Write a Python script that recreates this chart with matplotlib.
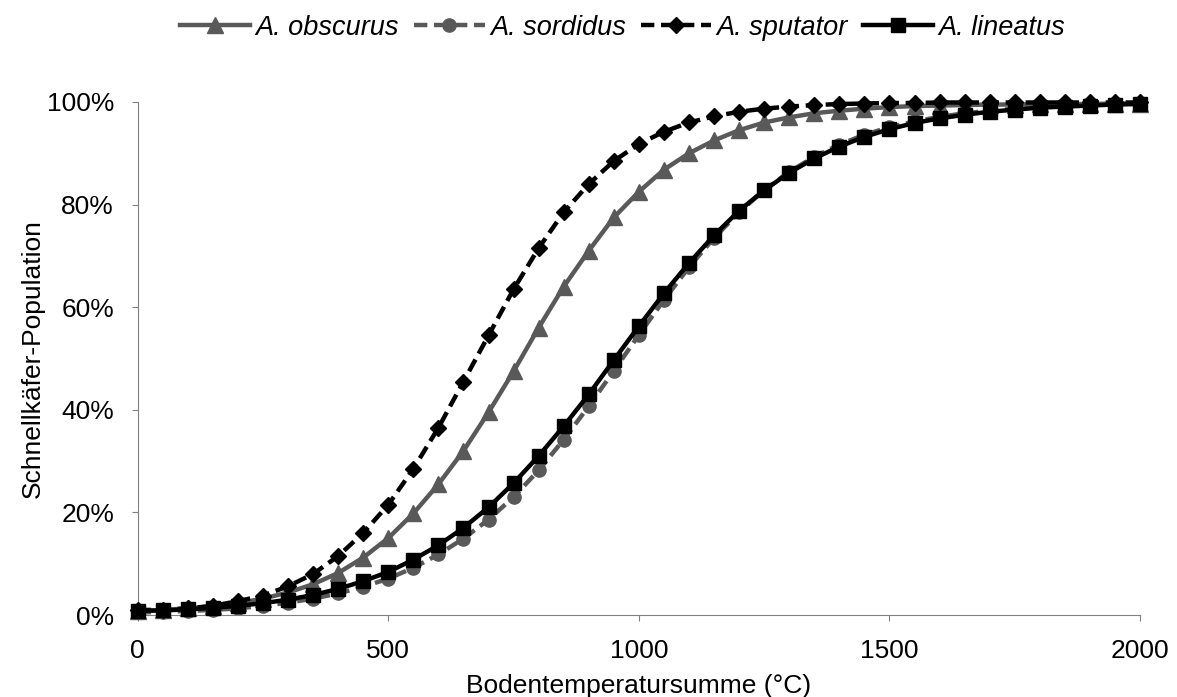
import numpy as np
import matplotlib.pyplot as plt
from matplotlib.ticker import PercentFormatter

plt.rcParams['font.family'] = ['Liberation Sans', 'DejaVu Sans']

x = list(range(0, 2001, 50))

obscurus = [0.8, 1.0, 1.3, 1.7, 2.3, 3.2, 4.4, 6.0, 8.2, 11.2, 15.0, 19.8, 25.5, 32.0,
            39.5, 47.5, 56.0, 64.0, 71.0, 77.5, 82.5, 86.8, 90.0, 92.5, 94.5, 96.0,
            97.0, 97.8, 98.3, 98.7, 99.0, 99.2, 99.3, 99.4, 99.5, 99.5, 99.6, 99.6,
            99.6, 99.7, 99.7]
sordidus = [0.5, 0.6, 0.8, 1.0, 1.3, 1.8, 2.4, 3.2, 4.2, 5.5, 7.1, 9.2, 11.8, 14.9,
            18.6, 23.0, 28.2, 34.2, 40.7, 47.6, 54.6, 61.4, 67.8, 73.5, 78.5, 82.8,
            86.4, 89.3, 91.7, 93.6, 95.1, 96.2, 97.1, 97.8, 98.3, 98.7, 99.0, 99.3,
            99.4, 99.6, 99.7]
sputator = [1.0, 1.0, 1.3, 1.8, 2.7, 3.8, 5.6, 8.0, 11.5, 16.0, 21.5, 28.5, 36.5, 45.5,
            54.5, 63.5, 71.5, 78.5, 84.0, 88.5, 91.8, 94.2, 96.0, 97.2, 98.1, 98.7,
            99.1, 99.4, 99.6, 99.7, 99.8, 99.8, 99.9, 99.9, 99.9, 99.9, 99.9, 99.9,
            99.9, 99.9, 99.9]
lineatus = [0.8, 0.9, 1.1, 1.4, 1.8, 2.3, 3.0, 3.9, 5.1, 6.6, 8.4, 10.8, 13.6, 17.0,
            21.0, 25.7, 31.0, 36.8, 43.0, 49.7, 56.3, 62.7, 68.6, 74.0, 78.8, 82.8,
            86.2, 89.0, 91.3, 93.2, 94.7, 95.9, 96.8, 97.5, 98.1, 98.5, 98.9, 99.1,
            99.3, 99.5, 99.6]

gray = '#595959'

fig = plt.figure(figsize=(11.77, 6.97), dpi=100)
ax = fig.add_axes([0.117, 0.1176, 0.8516, 0.7361])

ax.plot(x, obscurus, color=gray, lw=3.2, marker='^', ms=11, clip_on=False,
        label='A. obscurus', zorder=3)
ax.plot(x, sordidus, color=gray, lw=3.2, ls=(0, (3, 1.5)), marker='o', ms=9.5,
        clip_on=False, label='A. sordidus', zorder=2)
ax.plot(x, sputator, color='black', lw=3.2, ls=(0, (3, 1.5)), marker='D', ms=8,
        clip_on=False, label='A. sputator', zorder=4)
ax.plot(x, lineatus, color='black', lw=3.2, marker='s', ms=9.5, clip_on=False,
        label='A. lineatus', zorder=5)

ax.set_xlim(0, 2000)
ax.set_ylim(0, 100)
ax.set_xticks([0, 500, 1000, 1500, 2000])
ax.set_yticks([0, 20, 40, 60, 80, 100])
ax.yaxis.set_major_formatter(PercentFormatter(decimals=0))
ax.tick_params(labelsize=19, colors='#808080', labelcolor='black', length=4.5)
ax.tick_params(axis='x', pad=13)
ax.tick_params(axis='y', pad=12.5)
for s in ['top', 'right']:
    ax.spines[s].set_visible(False)
for s in ['left', 'bottom']:
    ax.spines[s].set_color('#808080')
ax.set_xlabel('Bodentemperatursumme (°C)', fontsize=19, labelpad=8)
ax.set_ylabel('Schnellkäfer-Population', fontsize=19, labelpad=1.5)

leg = fig.legend(loc='upper center', bbox_to_anchor=(0.529, 1.014), ncol=4, frameon=False,
                 prop={'style': 'italic', 'size': 19.5}, handlelength=2.6,
                 columnspacing=0.55, handletextpad=0.2)

fig.savefig('out.png', dpi=100)
